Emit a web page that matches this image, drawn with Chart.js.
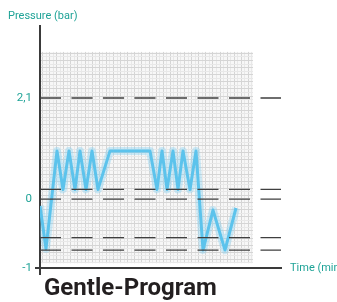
<!DOCTYPE html>
<html>
<head>
<meta charset="utf-8">
<script src="https://cdn.jsdelivr.net/npm/chart.js@4.4.1/dist/chart.umd.min.js"></script>
<style>
  html, body { margin:0; padding:0; background:#fff; }
  #wrap { width:337px; height:302px; }
</style>
</head>
<body>
<div id="wrap"><canvas id="chart-gentle" width="337" height="302"></canvas></div>
<script>
// Pressure curve of the gentle program (time in min, pressure in bar)
const timeMin  = [0, 0.6, 1.7, 2.3, 2.9, 3.5, 4.0, 4.6, 5.2, 5.8, 7.0, 11.0, 11.7, 12.2, 12.7, 13.3, 13.8, 14.3, 15.0, 15.6, 16.3, 17.3, 18.5, 19.6];
const pressure = [-0.1, -0.72, 1.0, 0.2, 1.0, 0.2, 1.0, 0.2, 1.0, 0.2, 1.0, 1.0, 0.2, 1.0, 0.2, 1.0, 0.2, 1.0, 0.2, 1.0, -0.74, -0.16, -0.74, -0.13];

// dashed reference levels (bar) and labelled ticks
const levelLines = [2.1, 0.2, 0, -0.56, -0.74];
const yTicks = [-1, 0, 2.1];

const TEAL = '#1fa397';
const AXIS = '#3a3a3a';
const SANS = "Roboto, 'Liberation Sans', sans-serif";

// y axis is drawn schematically: -1..0 and 0..2,1 have different steps
const Y_BREAKS = [[-1, 0], [0, 0.285], [2.1, 0.7025], [3.6, 1]];

class PressureScale extends Chart.LinearScale {
  getPixelForValue(value) {
    const v = +value;
    let i = 1;
    while (i < Y_BREAKS.length - 1 && v > Y_BREAKS[i][0]) i++;
    const [v0, f0] = Y_BREAKS[i - 1], [v1, f1] = Y_BREAKS[i];
    const f = f0 + (v - v0) / (v1 - v0) * (f1 - f0);
    return this.bottom - f * (this.bottom - this.top);
  }
  getValueForPixel(pixel) {
    const f = (this.bottom - pixel) / (this.bottom - this.top);
    let i = 1;
    while (i < Y_BREAKS.length - 1 && f > Y_BREAKS[i][1]) i++;
    const [v0, f0] = Y_BREAKS[i - 1], [v1, f1] = Y_BREAKS[i];
    return v0 + (f - f0) / (f1 - f0) * (v1 - v0);
  }
}
PressureScale.id = 'pressure';
PressureScale.defaults = Chart.LinearScale.defaults;
Chart.register(PressureScale);

// graph-paper background behind the curve
const paperPlugin = {
  id: 'paper',
  beforeDraw(chart, args, opts) {
    const { ctx, scales: { x, y } } = chart;
    const x0 = x.getPixelForValue(opts.x[0]) + 1, x1 = x.getPixelForValue(opts.x[1]);
    const y0 = y.getPixelForValue(opts.y[1]), y1 = y.getPixelForValue(opts.y[0]);
    ctx.save();
    ctx.fillStyle = '#f7f7f7';
    ctx.fillRect(x0, y0, x1 - x0, y1 - y0);
    ctx.lineWidth = 1;
    let n = 0;
    for (let px = x0 + 1; px <= x1; px += opts.step, n++) {
      ctx.strokeStyle = n % 2 ? '#e8e8e8' : '#d5d5d5';
      ctx.beginPath(); ctx.moveTo(Math.round(px) + 0.5, y0); ctx.lineTo(Math.round(px) + 0.5, y1); ctx.stroke();
    }
    n = 0;
    for (let py = y0 + 1; py <= y1; py += opts.step, n++) {
      ctx.strokeStyle = n % 2 ? '#e8e8e8' : '#d5d5d5';
      ctx.beginPath(); ctx.moveTo(x0, Math.round(py) + 0.5); ctx.lineTo(x1, Math.round(py) + 0.5); ctx.stroke();
    }
    ctx.restore();
  }
};

// axis captions and program name
const captionPlugin = {
  id: 'captions',
  afterDraw(chart) {
    const { ctx, chartArea: a } = chart;
    ctx.save();
    ctx.fillStyle = TEAL;
    ctx.font = `11px ${SANS}`;
    ctx.textBaseline = 'middle';
    ctx.textAlign = 'left';
    ctx.fillText('Pressure (bar)', a.left - 32, a.top - 10);
    ctx.fillText('Time (min', a.right + 9, a.bottom);
    ctx.fillStyle = '#231f20';
    ctx.font = `bold 24px ${SANS}`;
    ctx.textBaseline = 'alphabetic';
    ctx.fillText('Gentle-Program', a.left + 4, a.bottom + 27);
    ctx.restore();
  }
};

const levelSets = levelLines.map(v => ({
  data: [{ x: 0, y: v }, { x: 24.1, y: v }],
  borderColor: '#3f3f3f',
  borderWidth: 1.3,
  borderDash: [21, 10.5],
  pointRadius: 0,
  order: 0
}));

const curve = timeMin.map((t, i) => ({ x: t, y: pressure[i] }));

new Chart(document.getElementById('chart-gentle'), {
  type: 'line',
  data: {
    datasets: [
      ...levelSets,
      { data: curve, borderColor: '#5cc3ec', borderWidth: 3, borderJoinStyle: 'round', pointRadius: 0, tension: 0, order: 1 },
      { data: curve, borderColor: 'rgba(130,208,243,0.38)', borderWidth: 8, borderJoinStyle: 'round', pointRadius: 0, tension: 0, order: 2 }
    ]
  },
  options: {
    responsive: false, animation: false, devicePixelRatio: 1,
    layout: { padding: { top: 26, right: 56, left: 0, bottom: 0 } },
    plugins: {
      legend: { display: false }, tooltip: { enabled: false },
      paper: { x: [0, 21.3], y: [-0.93, 3.06], step: 3.55 }
    },
    scales: {
      x: {
        type: 'linear', min: 0, max: 24.1,
        afterBuildTicks: s => { s.ticks = [{ value: 0 }]; },
        afterFit: s => { s.height = 34; },
        ticks: { display: false },
        grid: { drawOnChartArea: false, tickLength: 7, color: AXIS, lineWidth: 2 },
        border: { color: AXIS, width: 2 }
      },
      y: {
        type: 'pressure', min: -1, max: 3.6,
        afterBuildTicks: s => { s.ticks = yTicks.map(v => ({ value: v })); },
        afterFit: s => { s.width = 40; },
        ticks: {
          color: TEAL, padding: 3, font: { family: SANS, size: 11.5 },
          callback: v => String(v).replace('.', ',')
        },
        grid: {
          drawOnChartArea: false, tickLength: 5, lineWidth: 2,
          color: c => c.tick && c.tick.value === -1 ? AXIS : 'rgba(0,0,0,0)'
        },
        border: { color: AXIS, width: 2 }
      }
    }
  },
  plugins: [paperPlugin, captionPlugin]
});
</script>
</body>
</html>
